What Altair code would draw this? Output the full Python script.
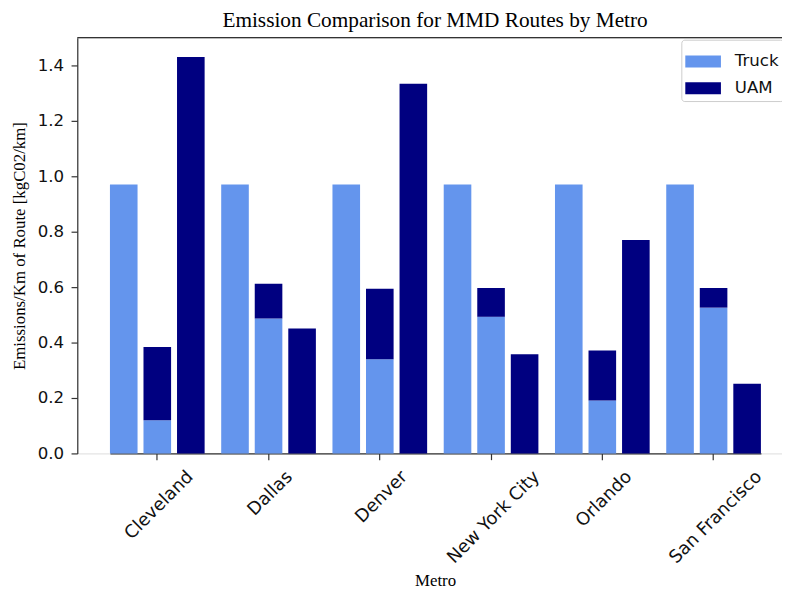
import altair as alt
import pandas as pd

metros = ["Cleveland", "Dallas", "Denver", "New York City", "Orlando", "San Francisco"]
truck_route = [0.97, 0.97, 0.97, 0.97, 0.97, 0.97]
mmd_truck_part = [0.12, 0.487, 0.34, 0.493, 0.191, 0.526]
mmd_uam_part = [0.264, 0.125, 0.254, 0.104, 0.18, 0.071]
uam_route = [1.43, 0.451, 1.334, 0.358, 0.77, 0.251]

slots = ["Truck route", "MMD route", "UAM route"]
series = ["Truck", "UAM"]
colors = ["#6495ED", "#000080"]

rows = []
for i, m in enumerate(metros):
    rows.append({"metro": m, "slot": slots[0], "series": "Truck", "lo": 0.0, "hi": truck_route[i]})
    rows.append({"metro": m, "slot": slots[1], "series": "Truck", "lo": 0.0, "hi": mmd_truck_part[i]})
    rows.append({"metro": m, "slot": slots[1], "series": "UAM", "lo": mmd_truck_part[i],
                 "hi": mmd_truck_part[i] + mmd_uam_part[i]})
    rows.append({"metro": m, "slot": slots[2], "series": "UAM", "lo": 0.0, "hi": uam_route[i]})
df = pd.DataFrame(rows)

# per-label shift so rotated labels are centred on their tick (matplotlib style)
label_em = {"Cleveland": 4.958, "Dallas": 3.073, "Denver": 3.637,
            "New York City": 6.99, "Orlando": 3.97, "San Francisco": 6.944}
FS = 16.8
FSX = 18
offset_cond = [{"test": f"datum.value == '{k}'", "value": round(0.354 * (v * FSX) - 4.5, 1)}
               for k, v in label_em.items()]

bars = alt.Chart(df).mark_bar().encode(
    x=alt.X("metro:N", sort=metros,
            scale=alt.Scale(range=[33, 690.7], paddingInner=0.149, paddingOuter=0),
            axis=alt.Axis(title="Metro", labelAngle=-45, labelAlign="right", labelBaseline="top",
                          labelOffset={"condition": offset_cond, "value": 0},
                          labelPadding=8, labelFont="DejaVu Sans", labelFontSize=FSX,
                          labelColor="#111111", tickSize=6.3, tickColor="#333333", tickWidth=1.2,
                          domainColor="#333333", domainWidth=1.2, grid=False,
                          titleFont="Liberation Serif", titleFontSize=17, titleFontWeight="normal",
                          titleColor="black", titleX=361.5, titleY=133,
                          titleBaseline="alphabetic", titleAlign="center")),
    xOffset=alt.XOffset("slot:N", sort=slots, scale=alt.Scale(paddingInner=0.177, paddingOuter=0)),
    y=alt.Y("lo:Q", scale=alt.Scale(domain=[0, 1.5], nice=False),
            axis=alt.Axis(title="Emissions/Km of Route [kgC02/km]", values=[0, 0.2, 0.4, 0.6, 0.8, 1.0, 1.2, 1.4],
                          format=".1f", labelFont="DejaVu Sans", labelFontSize=FS, labelColor="#111111",
                          labelPadding=7.5, tickSize=6.3, tickColor="#333333", tickWidth=1.2,
                          domainColor="#333333", domainWidth=1.2, grid=False,
                          titleFont="Liberation Serif", titleFontSize=17, titleFontWeight="normal",
                          titleColor="black", titlePadding=9)),
    y2="hi:Q",
    color=alt.Color("series:N", sort=series,
                    scale=alt.Scale(domain=series, range=colors),
                    legend=alt.Legend(title=None, orient="none", legendX=610.3, legendY=2,
                                      symbolType="M-1,-0.333H1V0.333H-1Z", symbolSize=1296,
                                      symbolStrokeWidth=0, symbolOpacity=1,
                                      labelFont="DejaVu Sans", labelFontSize=FS, labelColor="#111111",
                                      labelOffset=14, rowPadding=-1.5, padding=4,
                                      strokeColor="#cccccc", fillColor="white", cornerRadius=3)),
)

top_spine = alt.Chart(pd.DataFrame({"v": [1.5]})).mark_rule(color="#333333", strokeWidth=1.2).encode(
    y=alt.Y("v:Q")
)

chart = alt.layer(bars, top_spine).properties(
    width=712, height=420,
    title=alt.TitleParams(text="Emission Comparison for MMD Routes by Metro", font="Liberation Serif",
                          fontSize=21.5, fontWeight="normal", color="black", anchor="middle",
                          dx=5.5, dy=20, offset=9, baseline="alphabetic"),
    autosize=alt.AutoSizeParams(type="none"),
    padding={"left": 70, "top": 27, "right": 0, "bottom": 138},
).configure_view(stroke=None).configure(background="white")

chart.save("out.html", embed_options={"renderer": "svg", "actions": False})
